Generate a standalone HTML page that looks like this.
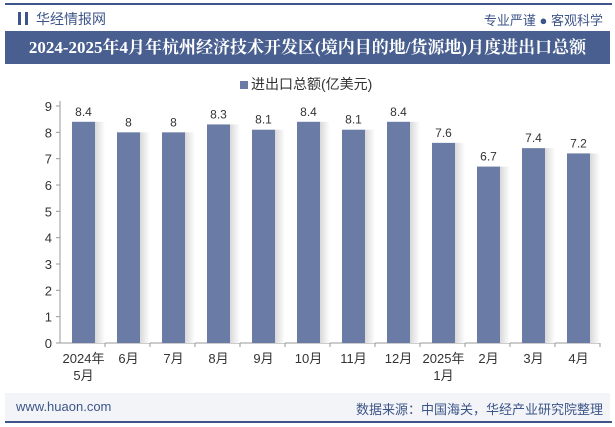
<!DOCTYPE html>
<html><head><meta charset="utf-8"><style>
body{margin:0;width:615px;height:427px;background:#fff;font-family:"Liberation Sans","Noto Sans CJK SC",sans-serif;overflow:hidden;position:relative}
.abs{position:absolute}
</style></head><body>
<div class="abs" style="left:5px;top:3px;width:607px;height:2px;background:#3d5588"></div>
<div class="abs" style="left:18px;top:12px;width:3px;height:13px;background:#3d5588"></div>
<div class="abs" style="left:25px;top:12px;width:3px;height:13px;background:#3d5588"></div>
<div class="abs" style="left:36px;top:9px;font-size:14px;color:#3d5588">华经情报网</div>
<div class="abs" style="right:12px;top:10px;font-size:13px;color:#3d5588">专业严谨 ● 客观科学</div>
<div class="abs" style="left:5px;top:31px;width:605px;height:33px;background:#485f90;color:#fff;font-size:17px;font-weight:bold;line-height:33px;text-align:center;font-family:'Liberation Serif','Noto Serif CJK SC',serif">2024-2025年4月年杭州经济技术开发区(境内目的地/货源地)月度进出口总额</div>
<div class="abs" style="left:240px;top:74px;font-size:14px;color:#333"><span style="display:inline-block;width:8px;height:8px;background:#6a7ca5;margin-right:3px"></span>进出口总额(亿美元)</div>
<svg class="abs" style="left:0;top:0" width="615" height="427" id="chart"><defs><linearGradient id="sh" x1="0" x2="1" y1="0" y2="0"><stop offset="0" stop-color="#d8d8d8"/><stop offset="1" stop-color="#ffffff"/></linearGradient></defs></svg>
<div class="abs" style="left:5px;top:393px;width:605px;height:28px;background:#f2f4f8"></div>
<div class="abs" style="left:16px;top:399px;font-size:13px;color:#3d5588">www.huaon.com</div>
<div class="abs" style="right:12px;top:399px;font-size:13px;color:#3d5588">数据来源：中国海关，华经产业研究院整理</div>
<div class="abs" style="left:5px;top:421px;width:607px;height:2px;background:#3d5588"></div>
<script>
const categories=["2024年\n5月","6月","7月","8月","9月","10月","11月","12月","2025年\n1月","2月","3月","4月"];
const values=[8.4,8,8,8.3,8.1,8.4,8.1,8.4,7.6,6.7,7.4,7.2];
const yTicks=[0,1,2,3,4,5,6,7,8,9];
const svg=document.getElementById('chart');const NS='http://www.w3.org/2000/svg';
const x0=60,x1=600,y0=343,yTop=106,band=(x1-x0)/categories.length;
const y=v=>y0-(y0-yTop)*v/9;
function mk(t,a,txt){const e=document.createElementNS(NS,t);for(const k in a)e.setAttribute(k,a[k]);if(txt!==undefined)e.textContent=txt;svg.appendChild(e);return e;}
let ax=mk('line',{x1:x0,y1:yTop-5,x2:x0,y2:y0,stroke:'#999'});


yTicks.forEach(t=>{
 const tl=mk('text',{x:x0-8,y:y(t)+5,'text-anchor':'end','font-size':13,fill:'#333'},String(t));
 
 
 mk('line',{x1:x0-4,y1:y(t),x2:x0,y2:y(t),stroke:'#999'});
});
let xa=mk('line',{x1:x0,y1:y0,x2:x1,y2:y0,stroke:'#999'});


categories.forEach((c,i)=>{
 const cx=x0+band*(i+0.5)+1,bw=23;
 mk('rect',{x:cx+bw/2,y:y(values[i]),width:10,height:y0-y(values[i]),fill:'url(#sh)'});
 const b=mk('rect',{x:cx-bw/2,y:y(values[i]),width:bw,height:y0-y(values[i]),fill:'#6a7ca5'});
 
 
 const v=mk('text',{x:cx,y:y(values[i])-6,'text-anchor':'middle','font-size':12,fill:'#333'},String(values[i]));
 
 
 mk('line',{x1:x0+band*(i+1),y1:y0,x2:x0+band*(i+1),y2:y0+4,stroke:'#999'});
 c.split('\n').forEach((ln,j)=>{
  const t=mk('text',{x:cx,y:y0+20+j*17,'text-anchor':'middle','font-size':13,fill:'#333'},ln);
  
  
 });
});
</script>
</body></html>
